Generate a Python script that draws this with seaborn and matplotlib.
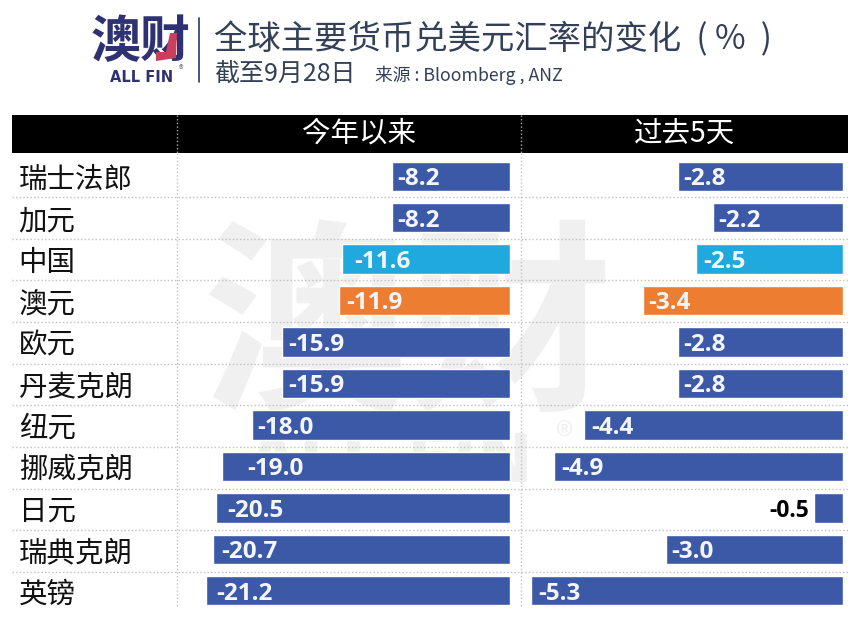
import matplotlib
matplotlib.use("Agg")
import matplotlib.pyplot as plt
import pandas as pd
import seaborn as sns
from matplotlib.lines import Line2D
from matplotlib.patches import Rectangle, Polygon

categories = ["瑞士法郎", "加元", "中国", "澳元", "欧元", "丹麦克朗", "纽元", "挪威克朗", "日元", "瑞典克朗", "英镑"]
# printed values
ytd = [-8.2, -8.2, -11.6, -11.9, -15.9, -15.9, -18.0, -19.0, -20.5, -20.7, -21.2]
past5 = [-2.8, -2.2, -2.5, -3.4, -2.8, -2.8, -4.4, -4.9, -0.5, -3.0, -5.3]
# bar lengths as drawn in the reference (the -19.0 bar is drawn longer than its label)
ytd_bar = [-8.2, -8.2, -11.7, -11.9, -15.9, -15.9, -18.0, -20.1, -20.5, -20.7, -21.2]
headers = ["今年以来", "过去5天"]
title = "全球主要货币兑美元汇率的变化  ( %  )"
subtitle = "截至9月28日"
source = "来源 : Bloomberg , ANZ"

# label inset inside each bar, in pixels
ytd_pad = [5, 5, 12, 7, 6, 6, 5, 25, 11, 8, 10]
past5_pad = [5, 5, 8, 6, 5, 5, 7, 7, 0, 5, 7]

BLUE, CYAN, ORANGE = "#3c59a8", "#20a9dd", "#ed7d31"
bar_colors = [CYAN if c == "中国" else ORANGE if c == "澳元" else BLUE for c in categories]
df = pd.DataFrame({"cat": categories, "ytd": ytd_bar, "past5": past5})

sns.set_theme(style="white")
plt.rcParams["font.family"] = ["Noto Sans CJK SC", "DejaVu Sans"]

W, H = 860, 639
fig = plt.figure(figsize=(W / 100, H / 100), dpi=100, facecolor="white")
fx = lambda x: x / W
fy = lambda y: 1 - y / H

def rect_axes(x0, y0, x1, y1, z=2):
    a = fig.add_axes([fx(x0), fy(y1), (x1 - x0) / W, (y1 - y0) / H], zorder=z)
    a.patch.set_alpha(0)
    return a

# watermark
WM = "#eff0ef"
fig.text(fx(408), fy(334), "澳财", fontsize=148, fontweight="bold", color=WM, ha="center", va="center", zorder=0)
fig.text(fx(390), fy(463), "ALL FIN", fontsize=48, fontweight="bold", color=WM, ha="center", va="center",
         family=["DejaVu Sans"], zorder=0)
fig.text(fx(565), fy(440), "®", fontsize=26, color=WM, ha="center", va="center", zorder=0)

# header band
fig.add_artist(Rectangle((fx(12), fy(153)), 836 / W, 38 / H, transform=fig.transFigure, facecolor="black", edgecolor="none", zorder=1))

# axes: pixel scale per unit chosen so both panels match the reference
top, bottom = 155.5, 611.5
sc1, sc2 = 14.34, 58.9
ax1 = rect_axes(177, top, 521, bottom)
ax2 = rect_axes(521, top, 848, bottom)
panels = [(ax1, "ytd", ytd, sc1, 510, 177, 521, ytd_pad), (ax2, "past5", past5, sc2, 843, 521, 848, past5_pad)]
for ax, col, printed, sc, zero, xl, xr, pads in panels:
    sns.barplot(data=df, y="cat", x=col, hue="cat", palette=bar_colors, dodge=False, legend=False, width=0.71, ax=ax, saturation=1)
    ax.set_xlim((xl - zero) / sc, (xr - zero) / sc)
    ax.set_ylim(len(categories) - 0.5, -0.5)
    ax.set_xlabel("")
    ax.set_ylabel("")
    ax.set_xticks([])
    for s in ax.spines.values():
        s.set_visible(False)
    for i, (b, v) in enumerate(zip(df[col], printed)):
        if abs(v) < 1:
            ax.text(b - 4 / sc, i + 0.07, f"{v:.1f}", ha="right", va="center", color="black", fontsize=16.5, fontweight="bold", family=["Open Sans"])
        else:
            ax.text(b + pads[i] / sc, i + 0.07, f"{v:.1f}", ha="left", va="center", color="#f4f6fb", fontsize=17.5, fontweight="bold", family=["Open Sans"])

ax1.tick_params(axis="y", length=0, pad=114)
ax1.set_yticks(range(len(categories)))
ax1.set_yticklabels(categories, ha="left", fontsize=20.5, color="#111111")
ax2.set_yticks([])

# grid lines
dot = dict(color="#c0c0c0", lw=1.0, ls=(0, (1, 1.6)), transform=fig.transFigure, zorder=3)
for i in range(10):
    y = 197 + 41.65 * i
    fig.add_artist(Line2D([fx(12), fx(848)], [fy(y), fy(y)], **dot))
for x in (177, 521):
    fig.add_artist(Line2D([fx(x), fx(x)], [fy(153), fy(607)], **dot))
    fig.add_artist(Line2D([fx(x), fx(x)], [fy(115), fy(153)], color="#aaaaaa", lw=1.0, ls=(0, (1, 1.6)), transform=fig.transFigure, zorder=3))

# header labels
fig.text(fx(359), fy(134), headers[0], fontsize=20.5, color="white", ha="center", va="center", zorder=4)
fig.text(fx(685), fy(134), headers[1], fontsize=20.5, color="white", ha="center", va="center", zorder=4)

# logo and titles
NAVY = "#2e3272"
fig.text(fx(141), fy(43), "澳财", fontsize=36, fontweight="bold", color=NAVY, ha="center", va="center", zorder=4)
fig.add_artist(Polygon([(fx(170), fy(33)), (fx(177), fy(33)), (fx(176), fy(58)), (fx(156), fy(61)), (fx(156), fy(52)), (fx(166), fy(52))],
                       closed=True, transform=fig.transFigure, facecolor="#c9405f", edgecolor="none", zorder=5))
fig.text(fx(142), fy(77), "ALL FIN", fontsize=10.5, fontweight="bold", color=NAVY, ha="center", va="center", family=["DejaVu Sans"], zorder=4)
fig.text(fx(181), fy(70), "®", fontsize=7, color="#777777", ha="center", va="center", zorder=4)
fig.add_artist(Line2D([fx(199), fx(199)], [fy(18), fy(82)], color=NAVY, lw=1.2, transform=fig.transFigure))
fig.text(fx(214), fy(40), title, fontsize=24, color="#334057", ha="left", va="center", zorder=4)
fig.text(fx(214), fy(74), subtitle, fontsize=18, color="#334057", ha="left", va="center", zorder=4)
fig.text(fx(375), fy(75), source, fontsize=12.8, color="#334057", ha="left", va="center", zorder=4)

fig.savefig("out.png", dpi=100, facecolor="white")
